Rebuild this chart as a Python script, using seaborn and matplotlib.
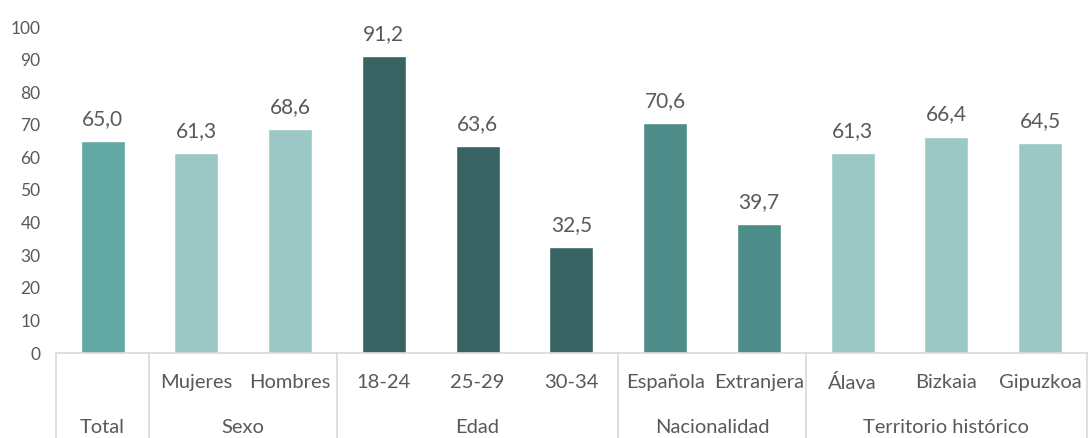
import pandas as pd
import numpy as np
import matplotlib.pyplot as plt
import matplotlib.transforms as mtransforms
import seaborn as sns

# data
categories = ["Total", "Mujeres", "Hombres", "18-24", "25-29", "30-34",
              "Española", "Extranjera", "Álava", "Bizkaia", "Gipuzkoa"]
sub_labels = ["", "Mujeres", "Hombres", "18-24", "25-29", "30-34",
              "Española", "Extranjera", "Álava", "Bizkaia", "Gipuzkoa"]
groups = ["Total", "Sexo", "Sexo", "Edad", "Edad", "Edad",
          "Nacionalidad", "Nacionalidad",
          "Territorio histórico", "Territorio histórico", "Territorio histórico"]
values = [65.0, 61.3, 68.6, 91.2, 63.6, 32.5, 70.6, 39.7, 61.3, 66.4, 64.5]

group_colors = {
    "Total": "#62a8a5",
    "Sexo": "#9bc7c5",
    "Edad": "#376462",
    "Nacionalidad": "#4e8c8a",
    "Territorio histórico": "#9bc7c5",
}

df = pd.DataFrame({"cat": categories, "sub": sub_labels, "grp": groups, "val": values})

sns.set_style("white")
plt.rcParams["font.family"] = ["Lato", "DejaVu Sans"]
text_col = "#595959"
line_col = "#d9d9d9"

fig = plt.figure(figsize=(10.89, 4.38), dpi=100)
ax = fig.add_axes([55.7 / 1089, 85 / 438, (1087 - 55.7) / 1089, 326 / 438])

sns.barplot(data=df, x="cat", y="val", hue="grp", palette=group_colors,
            dodge=False, legend=False, width=0.47, ax=ax, saturation=1)

ax.set_xlim(-0.5, len(categories) - 0.5)
ax.set_ylim(0, 100)
ax.set_yticks(range(0, 101, 10))
ax.tick_params(axis="y", length=0, pad=11, labelsize=12.5, labelcolor=text_col)
ax.set_xticks([])
ax.set_xlabel("")
ax.set_ylabel("")
for s in ["left", "top", "right"]:
    ax.spines[s].set_visible(False)
ax.spines["bottom"].set_color(line_col)
ax.spines["bottom"].set_linewidth(1.2)

# value labels
for i, v in enumerate(values):
    ax.annotate(f"{v:.1f}".replace(".", ","), (i, v), xytext=(0, 11.5),
                textcoords="offset points", ha="center", va="baseline",
                fontsize=15, color=text_col)

# category axis labels (two rows)
trans = mtransforms.blended_transform_factory(ax.transData, ax.transAxes)
for i, s in enumerate(sub_labels):
    ax.text(i, -0.092, s, transform=trans, ha="center", va="center",
            fontsize=14.5, color=text_col)

bounds = [-0.5]
names = []
for i in range(len(groups)):
    if i == len(groups) - 1 or groups[i + 1] != groups[i]:
        bounds.append(i + 0.5)
        names.append(groups[i])
for k, name in enumerate(names):
    ax.text((bounds[k] + bounds[k + 1]) / 2, -0.23, name, transform=trans,
            ha="center", va="center", fontsize=14.5, color=text_col)
for b in bounds:
    ax.plot([b, b], [0, -0.27], transform=trans, color=line_col,
            linewidth=1.2, clip_on=False)

fig.savefig("out.png", dpi=100)
